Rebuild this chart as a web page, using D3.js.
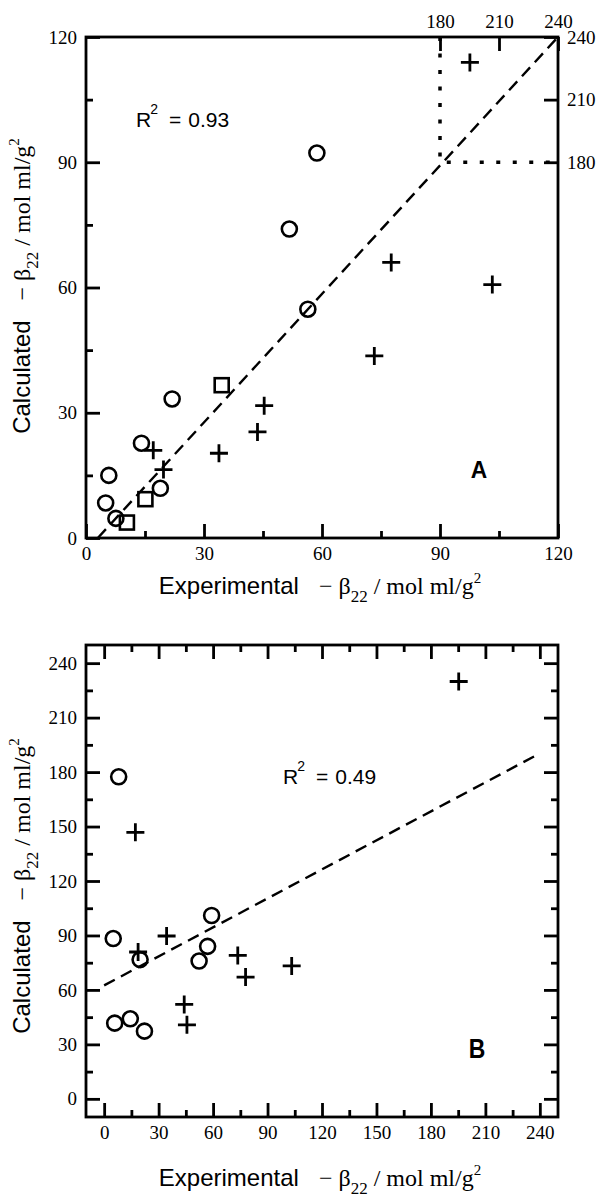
<!DOCTYPE html>
<html>
<head>
<meta charset="utf-8">
<script src="https://cdn.jsdelivr.net/npm/d3@7"></script>
<style>
  body { margin: 0; background: #fff; }
  svg { display: block; }
</style>
</head>
<body>
<div id="chart"></div>
<script>
// ── Data ────────────────────────────────────────────────────
const circlesA = [[5.8, 15], [5, 8.4], [7.6, 4.7], [14.1, 22.7], [18.9, 11.9],
                  [21.9, 33.3], [56.4, 54.8], [51.7, 74], [58.7, 92.2]];
const squaresA = [[10.4, 3.7], [15.1, 9.3], [34.5, 36.6]];
const crossesA = [[17.1, 21], [19.7, 16.4], [33.8, 20.3], [43.6, 25.4], [45.3, 31.7],
                  [73.3, 43.6], [77.6, 66], [103.3, 60.7]];
const insetCrossA = [[195.2, 227.8]];   // plotted on the 180–240 inset axes
const fitA = [[3, 0], [120, 120]];
const insetCorner = [90, 120];          // inset box in panel A units

const circlesB = [[8, 177.4], [59.2, 101], [5, 88.3], [19.8, 76.7], [57, 84],
                  [52.3, 75.9], [5.8, 41.7], [14.4, 44.1], [22.2, 37.3]];
const crossesB = [[195.3, 229.9], [17.2, 146.8], [18.7, 80.9], [34.4, 89.7], [73.6, 79],
                  [77.9, 67.1], [103.3, 73.2], [44.1, 52], [45.6, 40.8]];
const fitB = [[0, 62.5], [240, 190.3]];

const majorA = [0, 30, 60, 90, 120];
const minorA = [15, 45, 75, 105];
const insetTicks = [180, 210, 240];
const majorB = [0, 30, 60, 90, 120, 150, 180, 210, 240];
const minorB = [15, 45, 75, 105, 135, 165, 195, 225];

const r2A = '0.93', r2B = '0.49';

// ── Setup ───────────────────────────────────────────────────
const width = 612, height = 1200;
const serif = 'Liberation Serif, Times New Roman, serif';
const sans  = 'Liberation Sans, Arial, sans-serif';

const svg = d3.select('#chart').append('svg')
  .attr('width', width).attr('height', height);

const left = 86, right = 558;

// style axis groups: black, thick ticks, serif labels
function styleAxis(g) {
  g.select('.domain').remove();
  g.selectAll('.tick line').attr('stroke', '#000').attr('stroke-width', 2.8);
  g.selectAll('.tick text').attr('fill', '#000')
    .attr('font-family', serif).attr('font-size', '19px');
}

function ticks(g, axisFn, scale, major, minor, pos, showLabels) {
  const a = g.append('g').attr('transform', pos)
    .call(axisFn(scale).tickValues(major).tickSizeInner(-14).tickSizeOuter(0)
      .tickPadding(9).tickFormat(showLabels ? d3.format('d') : ''));
  styleAxis(a);
  if (minor) {
    const b = g.append('g').attr('transform', pos)
      .call(axisFn(scale).tickValues(minor).tickSizeInner(-7).tickSizeOuter(0).tickFormat(''));
    styleAxis(b);
  }
}

function markers(g, x, y, circles, squares, crosses) {
  g.selectAll(null).data(circles).join('circle')
    .attr('cx', d => x(d[0])).attr('cy', d => y(d[1])).attr('r', 7.5)
    .attr('fill', 'none').attr('stroke', '#000').attr('stroke-width', 2.6);
  g.selectAll(null).data(squares).join('rect')
    .attr('x', d => x(d[0]) - 7).attr('y', d => y(d[1]) - 7)
    .attr('width', 14).attr('height', 14)
    .attr('fill', 'none').attr('stroke', '#000').attr('stroke-width', 2.6);
  g.selectAll(null).data(crosses).join('path')
    .attr('d', d => {
      const cx = x(d[0]), cy = y(d[1]);
      return `M${cx - 9},${cy}H${cx + 9}M${cx},${cy - 9}V${cy + 9}`;
    })
    .attr('fill', 'none').attr('stroke', '#000').attr('stroke-width', 2.8);
}

function fitLine(g, x, y, pts) {
  g.append('path')
    .attr('d', d3.line().x(d => x(d[0])).y(d => y(d[1]))(pts))
    .attr('fill', 'none').attr('stroke', '#000')
    .attr('stroke-width', 2.4).attr('stroke-dasharray', '12,7');
}

function axisTitle(g, tx, ty, rotate, first) {
  const t = g.append('text')
    .attr('transform', `translate(${tx},${ty})` + (rotate ? ' rotate(-90)' : ''))
    .attr('text-anchor', 'middle').attr('fill', '#000').attr('font-size', '24px');
  t.append('tspan').attr('font-family', sans).text(first);
  t.append('tspan').attr('font-family', serif).attr('dx', 20).text('− β');
  t.append('tspan').attr('font-family', serif).attr('font-size', '17px').attr('dy', 8).text('22');
  t.append('tspan').attr('font-family', serif).attr('dy', -8).attr('dx', 6).text('/ mol ml/g');
  t.append('tspan').attr('font-family', serif).attr('font-size', '15px').attr('dy', -11).text('2');
}

function r2Label(g, tx, ty, val) {
  const t = g.append('text').attr('x', tx).attr('y', ty)
    .attr('font-family', sans).attr('font-size', '21px').attr('fill', '#000');
  t.append('tspan').text('R');
  t.append('tspan').attr('font-size', '14px').attr('dx', -1).attr('dy', -13).text('2');
  t.append('tspan').attr('dy', 13).attr('dx', 11).text('=');
  t.append('tspan').attr('dx', 7).text(val);
}

function panelLetter(g, tx, ty, size, sx, letter) {
  g.append('text')
    .attr('transform', `translate(${tx},${ty}) scale(${sx},1)`)
    .attr('text-anchor', 'middle')
    .attr('font-family', sans).attr('font-weight', 'bold').attr('font-size', size + 'px')
    .text(letter);
}

// ── Panel A ─────────────────────────────────────────────────
const topA = 37, botA = 538;
const gA = svg.append('g');
const xA = d3.scaleLinear().domain([0, 120]).range([left, right]);
const yA = d3.scaleLinear().domain([0, 120]).range([botA, topA]);
const xIn = d3.scaleLinear().domain([180, 240]).range([xA(insetCorner[0]), xA(insetCorner[1])]);
const yIn = d3.scaleLinear().domain([180, 240]).range([yA(insetCorner[0]), yA(insetCorner[1])]);

ticks(gA, d3.axisBottom, xA, majorA, minorA, `translate(0,${botA})`, true);
ticks(gA, d3.axisLeft, yA, majorA, minorA, `translate(${left},0)`, true);
ticks(gA, d3.axisTop, xIn, insetTicks, null, `translate(0,${topA})`, true);
ticks(gA, d3.axisRight, yIn, insetTicks, null, `translate(${right},0)`, true);

// inset box (dotted)
gA.append('path')
  .attr('d', `M${xA(insetCorner[0])},${yA(insetCorner[1])}V${yA(insetCorner[0])}H${xA(insetCorner[1])}`)
  .attr('fill', 'none').attr('stroke', '#000')
  .attr('stroke-width', 3.5).attr('stroke-dasharray', '4,12.5');

fitLine(gA, xA, yA, fitA);
markers(gA, xA, yA, circlesA, squaresA, crossesA);
markers(gA, xIn, yIn, [], [], insetCrossA);

gA.append('rect').attr('x', left).attr('y', topA)
  .attr('width', right - left).attr('height', botA - topA)
  .attr('fill', 'none').attr('stroke', '#000').attr('stroke-width', 2.8);

r2Label(gA, 136, 127, r2A);
panelLetter(gA, 479, 478, 24, 0.95, 'A');

axisTitle(gA, 320, 594, false, 'Experimental');
axisTitle(gA, 30, 286, true, 'Calculated');

// ── Panel B ─────────────────────────────────────────────────
const topB = 645, botB = 1117;
const gB = svg.append('g');
const xB = d3.scaleLinear().domain([-10, 250]).range([left, right]);
const yB = d3.scaleLinear().domain([-10, 250]).range([botB, topB]);

ticks(gB, d3.axisBottom, xB, majorB, minorB, `translate(0,${botB})`, true);
ticks(gB, d3.axisLeft, yB, majorB, minorB, `translate(${left},0)`, true);
ticks(gB, d3.axisTop, xB, majorB, minorB, `translate(0,${topB})`, false);
ticks(gB, d3.axisRight, yB, majorB, minorB, `translate(${right},0)`, false);

fitLine(gB, xB, yB, fitB);
markers(gB, xB, yB, circlesB, [], crossesB);

gB.append('rect').attr('x', left).attr('y', topB)
  .attr('width', right - left).attr('height', botB - topB)
  .attr('fill', 'none').attr('stroke', '#000').attr('stroke-width', 2.8);

r2Label(gB, 283, 784, r2B);
panelLetter(gB, 477, 1058, 27, 0.85, 'B');

axisTitle(gB, 320, 1186, false, 'Experimental');
axisTitle(gB, 30, 886, true, 'Calculated');
</script>
</body>
</html>
